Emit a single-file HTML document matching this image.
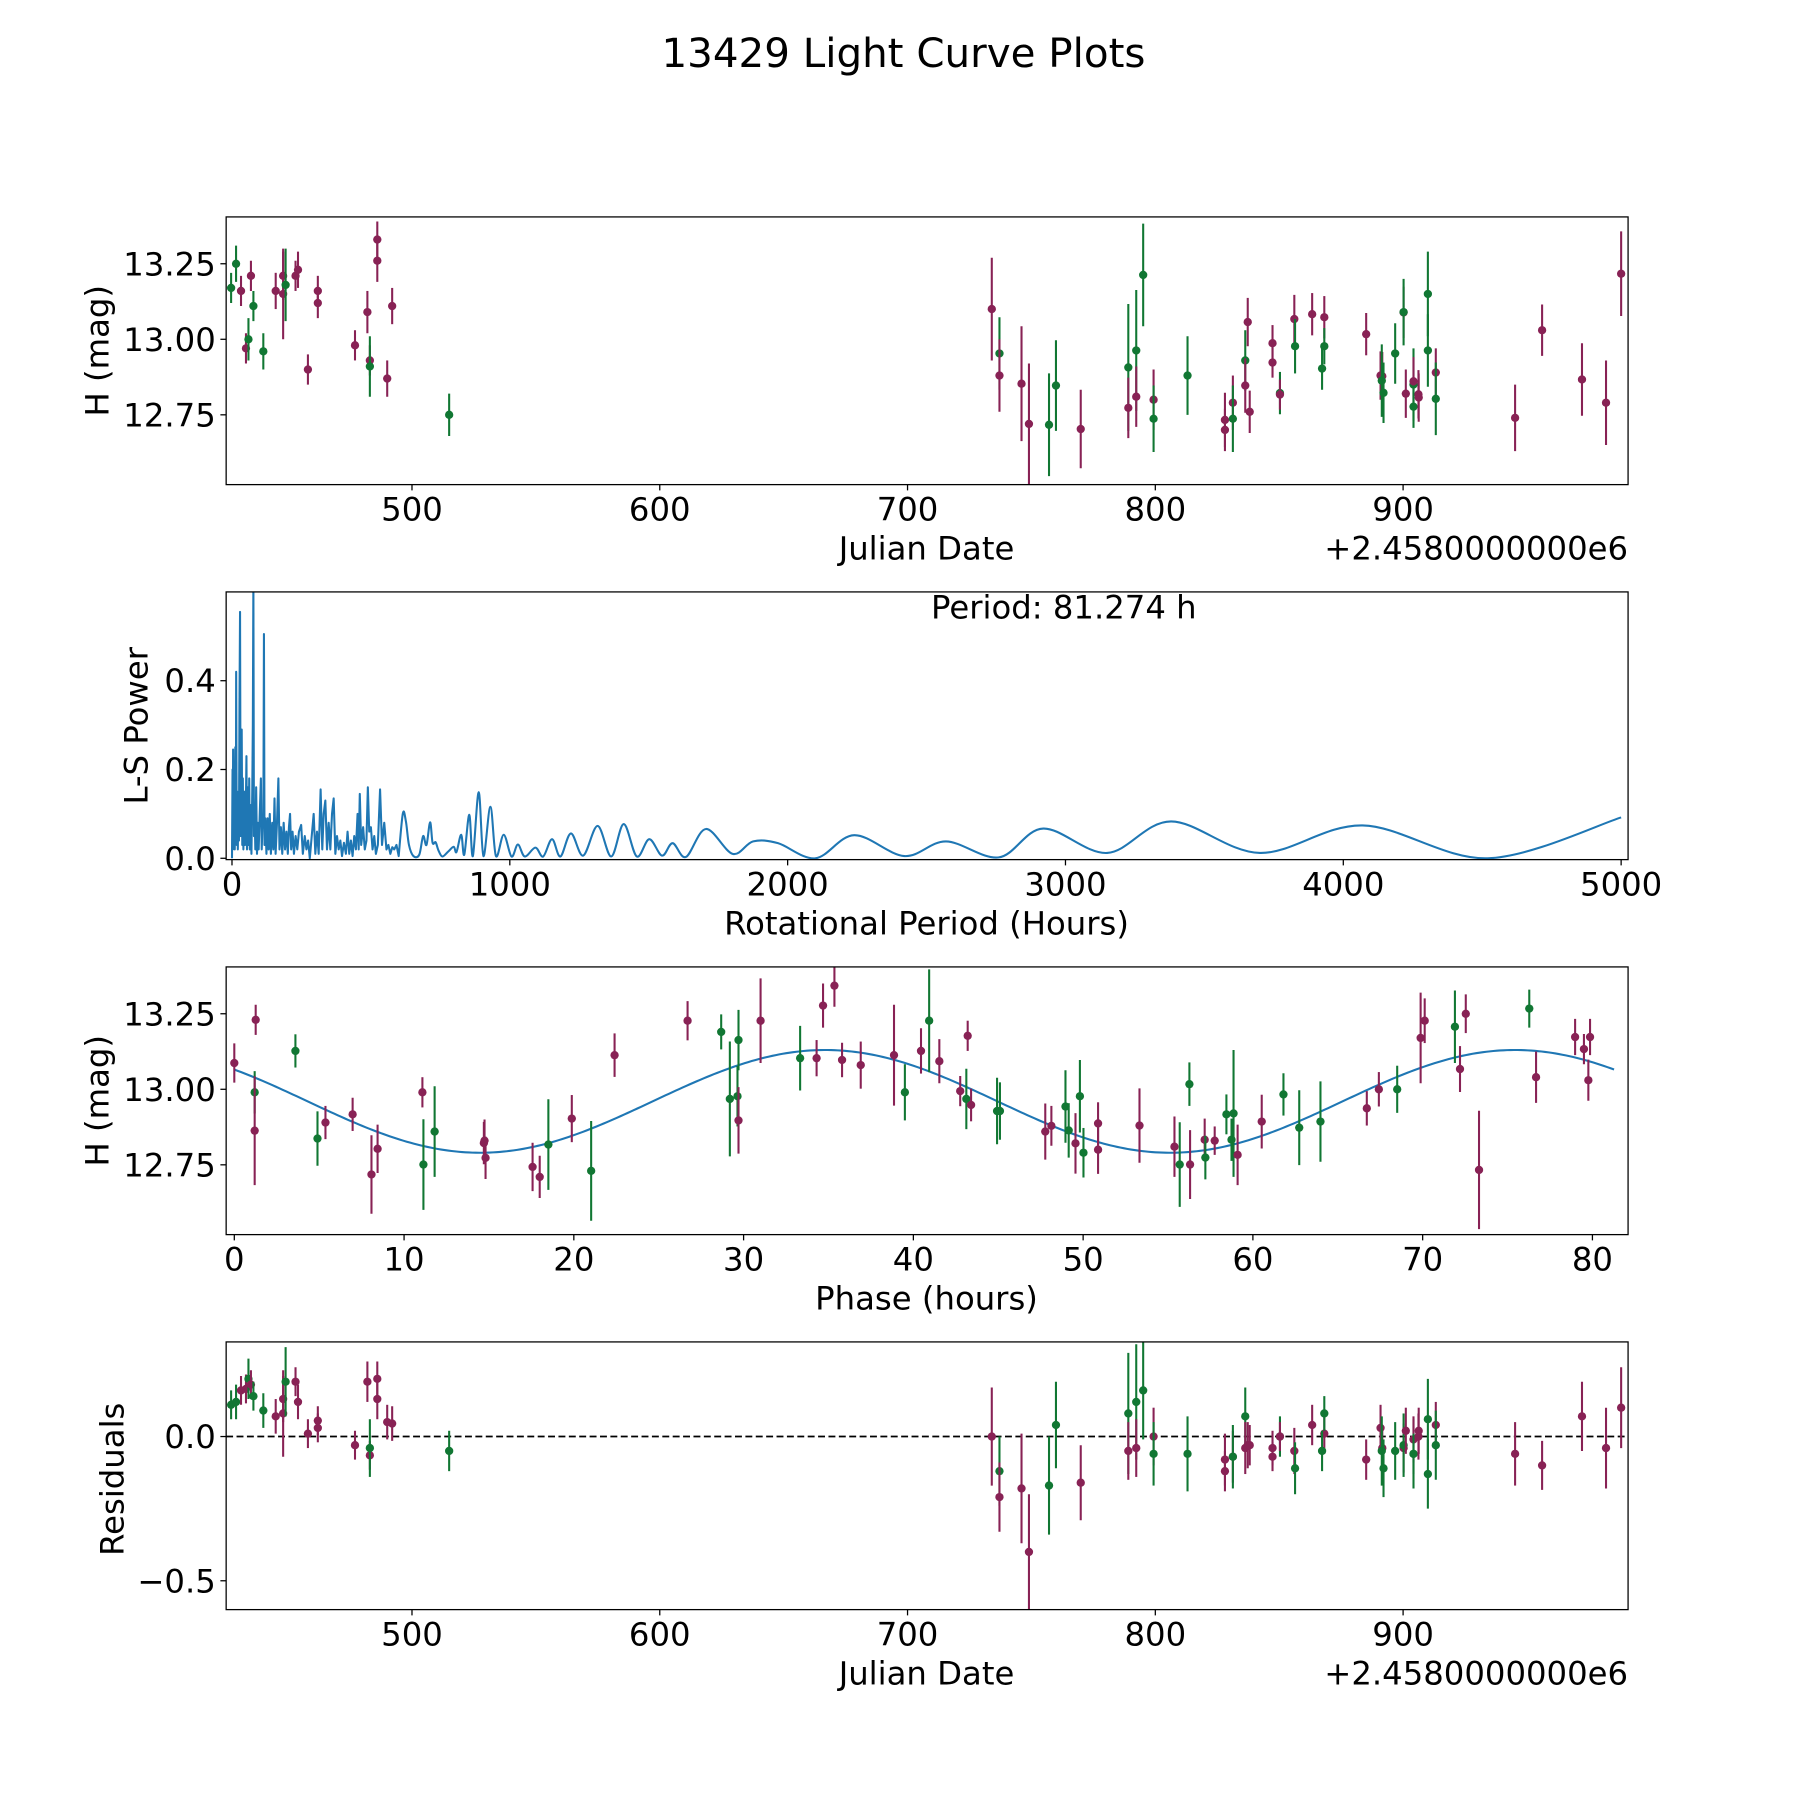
<!DOCTYPE html>
<html><head><meta charset="utf-8"><title>13429 Light Curve Plots</title>
<style>
html,body{margin:0;padding:0;background:#fff;}
svg{display:block;font-family:"DejaVu Sans","Liberation Sans",sans-serif;}
</style></head>
<body>
<svg id="fig" xmlns="http://www.w3.org/2000/svg" width="1800" height="1800" viewBox="0 0 1560 1560">
<rect x="0" y="0" width="1560" height="1560" fill="#fff"/>
<text x="783" y="58" font-size="35" text-anchor="middle" fill="#000">13429 Light Curve Plots</text>
</svg>
<script>
// ---- Light curve data (JD - 2458000) ----
const dates = [427,429,431,433,434,435,436,440,445,448,448,449,453,454,458,462,462,477,482,483,483,486,486,490,492,515,
734,737.1,737.1,746,749,757.1,759.9,769.9,789.1,789.1,792.3,792.3,795.1,799.3,799.3,813,828.1,828.1,831.3,831.3,836.3,836.3,837.3,838.1,847.3,847.3,850.3,850.3,856.1,856.4,863.3,868.2,868.2,867.3,885.1,890.9,891.6,891.4,892.1,896.8,900.2,900.2,901.1,904.2,904.2,904.2,906.2,906.3,910,910,913.2,913.2,945.2,956.1,972.2,981.9,988];
const mags = [13.17,13.25,13.16,12.97,13.00,13.21,13.11,12.96,13.16,13.15,13.21,13.18,13.21,13.23,12.90,13.16,13.12,12.98,13.09,12.93,12.91,13.33,13.26,12.87,13.11,12.75,
13.10,12.953,12.88,12.853,12.72,12.717,12.847,12.703,12.907,12.773,12.963,12.81,13.213,12.80,12.737,12.88,12.733,12.70,12.79,12.737,12.93,12.847,13.057,12.76,12.987,12.923,12.822,12.817,13.067,12.977,13.083,13.073,12.977,12.903,13.017,12.88,12.878,12.863,12.823,12.953,13.089,13.09,12.82,12.85,12.861,12.777,12.818,12.807,13.15,12.963,12.89,12.803,12.74,13.03,12.867,12.79,13.217];
const errs = [0.05,0.06,0.05,0.05,0.07,0.05,0.05,0.06,0.06,0.15,0.08,0.12,0.05,0.06,0.05,0.05,0.05,0.05,0.07,0.05,0.10,0.06,0.07,0.06,0.06,0.07,
0.17,0.12,0.12,0.19,0.2,0.17,0.15,0.13,0.21,0.1,0.2,0.1,0.17,0.1,0.11,0.13,0.09,0.07,0.09,0.11,0.1,0.09,0.08,0.07,0.06,0.05,0.07,0.05,0.08,0.09,0.07,0.07,0.06,0.07,0.07,0.08,0.08,0.12,0.1,0.1,0.085,0.11,0.08,0.12,0.08,0.07,0.08,0.08,0.14,0.12,0.08,0.12,0.11,0.085,0.12,0.14,0.14];
const residuals = [0.11,0.12,0.16,0.165,0.2,0.18,0.14,0.09,0.07,0.08,0.13,0.19,0.19,0.12,0.01,0.055,0.03,-0.03,0.19,-0.065,-0.04,0.2,0.13,0.05,0.045,-0.05,
0.0,-0.12,-0.21,-0.18,-0.40,-0.17,0.04,-0.16,0.08,-0.05,0.12,-0.04,0.16,0.0,-0.06,-0.06,-0.08,-0.12,-0.07,-0.07,0.07,-0.04,-0.03,-0.03,-0.04,-0.07,0.0,0.0,-0.05,-0.11,0.04,0.01,0.08,-0.05,-0.08,0.03,-0.04,-0.05,-0.11,-0.05,-0.04,-0.03,0.02,-0.06,-0.01,-0.06,0.0,0.02,0.06,-0.13,0.04,-0.03,-0.06,-0.1,0.07,-0.04,0.1];
const filterList = ["g","g","m","m","g","m","g","g","m","m","m","g","m","m","m","m","m","m","m","m","g","m","m","m","m","g",
"m","g","m","m","m","g","g","m","g","m","g","m","g","m","g","g","m","m","m","g","g","m","m","m","m","m","g","m","m","g","m","m","g","g","m","m","m","g","g","g","m","g","m","g","m","g","m","m","g","g","m","g","m","m","m","m","m"];

// ---- Periodogram data (period hours, L-S power) ----
const lsPeriod = [0,2,3,4,6,8,10,12,14,15,17,19,21,23,25,27,29,31,33,35,37,39,41,44,47,50,52,54,57,60,62,64,67,70,73,75,77,79,81,84,87,90,93,96,100,104,107,110,113,115,117,120,124,128,132,136,140,145,149,153,157,162,167,171,176,181,186,191,196,201,205,209,213,218,223,229,235,241,249,255,262,268,274,280,287,294,300,306,312,319,325,330,336,342,348,354,360,366,372,378,384,390,396,403,410,416,422,428,434,440,446,452,456,460,465,472,478,484,489,494,500,506,512,518,525,533,540,548,556,563,570,577,584,592,600];
const lsPower = [0.0,0.2,0.02,0.245,0.03,0.16,0.02,0.25,0.05,0.42,0.03,0.15,0.02,0.12,0.04,0.35,0.555,0.05,0.18,0.29,0.03,0.18,0.02,0.15,0.03,0.12,0.23,0.02,0.16,0.03,0.18,0.02,0.12,0.01,0.15,0.3,0.62,0.05,0.12,0.02,0.16,0.01,0.08,0.02,0.1,0.18,0.02,0.08,0.1,0.505,0.03,0.09,0.01,0.09,0.02,0.1,0.01,0.08,0.02,0.135,0.01,0.08,0.18,0.02,0.07,0.01,0.08,0.02,0.06,0.01,0.07,0.1,0.02,0.06,0.01,0.05,0.02,0.06,0.075,0.01,0.05,0.02,0.04,0.0,0.05,0.1,0.01,0.06,0.01,0.155,0.02,0.1,0.13,0.02,0.08,0.02,0.1,0.135,0.01,0.05,0.02,0.04,0.005,0.035,0.01,0.06,0.01,0.04,0.005,0.05,0.02,0.1,0.02,0.145,0.03,0.07,0.02,0.04,0.16,0.06,0.07,0.02,0.05,0.01,0.03,0.155,0.03,0.08,0.02,0.03,0.01,0.025,0.02,0.03,0.005];
const lsSmoothPeriod = [600,615,626,637,653,674,688,700,713,722,733,743,757,778,798,808,825,836,854,867,888,905,930,950,978,1006,1029,1054,1092,1120,1152,1182,1220,1264,1316,1365,1410,1457,1502,1548,1586,1634,1706,1802,1876,1965,2100,2240,2420,2570,2760,2920,3150,3380,3700,4070,4520,5000];
const lsSmoothPower = [0.005,0.101,0.083,0.03,0.005,0.008,0.05,0.03,0.081,0.035,0.036,0.018,0.004,0.015,0.026,0.014,0.053,0.008,0.098,0.005,0.149,0.005,0.116,0.005,0.053,0.004,0.031,0.004,0.024,0.004,0.043,0.004,0.056,0.006,0.073,0.004,0.077,0.004,0.043,0.006,0.034,0.003,0.066,0.01,0.038,0.034,0.0,0.052,0.005,0.038,0.002,0.067,0.012,0.083,0.012,0.074,0.0,0.092];

// ---- Phased data ----
const phases = [0.0,1.26,1.2,1.2,3.6,4.9,5.37,6.97,8.08,8.44,11.08,11.14,11.8,14.7,14.74,14.8,17.57,17.99,18.5,19.88,21.02,22.4,26.7,28.68,29.19,29.7,29.64,29.7,31.0,33.33,34.3,34.68,35.35,35.8,36.9,38.86,39.5,40.45,40.93,41.53,42.76,43.12,43.2,43.4,44.93,45.1,
47.77,48.13,48.96,49.15,49.55,49.81,50.02,50.88,50.88,53.32,55.38,55.69,56.26,56.3,57.16,57.2,57.75,58.44,58.74,58.86,59.1,60.52,61.8,62.73,63.98,66.71,67.42,68.5,69.88,70.12,71.9,72.2,72.54,73.32,76.28,76.68,78.98,79.5,79.86,79.76];
const phaseMags = [13.087,13.23,12.99,12.863,13.127,12.837,12.89,12.917,12.718,12.803,12.99,12.751,12.86,12.822,12.83,12.773,12.743,12.71,12.817,12.903,12.73,13.113,13.227,13.19,12.968,13.163,12.977,12.897,13.227,13.103,13.103,13.277,13.343,13.097,13.08,13.113,12.99,13.127,13.227,13.093,12.994,12.968,13.177,12.948,12.928,12.928,
12.86,12.879,12.943,12.864,12.821,12.977,12.79,12.887,12.8,12.88,12.81,12.751,13.017,12.751,12.833,12.774,12.83,12.917,12.833,12.92,12.783,12.893,12.983,12.873,12.893,12.937,13.0,13.0,13.17,13.227,13.207,13.067,13.25,12.733,13.267,13.04,13.173,13.133,13.173,13.03];
const phaseErrs = [0.065,0.05,0.07,0.18,0.055,0.09,0.055,0.055,0.13,0.08,0.05,0.15,0.15,0.07,0.07,0.07,0.08,0.07,0.15,0.078,0.165,0.072,0.065,0.058,0.19,0.1,0.1,0.11,0.14,0.107,0.06,0.073,0.07,0.057,0.078,0.167,0.093,0.075,0.17,0.073,0.05,0.1,0.05,0.054,0.11,0.095,
0.093,0.066,0.12,0.09,0.1,0.12,0.082,0.07,0.08,0.123,0.1,0.14,0.072,0.114,0.07,0.072,0.047,0.066,0.07,0.21,0.1,0.089,0.07,0.124,0.133,0.057,0.057,0.078,0.15,0.074,0.12,0.076,0.064,0.196,0.063,0.085,0.06,0.05,0.06,0.068];
const phaseFilters = ["m","m","g","m","g","g","m","m","m","m","m","g","g","m","m","m","m","m","g","m","g","m","m","g","g","g","g","m","m","g","m","m","m","m","m","m","g","m","g","m","m","g","m","m","g","g",
"m","m","g","g","m","g","g","m","m","m","m","g","g","m","m","g","m","g","g","g","m","m","g","g","g","m","m","g","m","m","g","m","m","m","g","m","m","m","m","m"];
// fitted model: [mean, amplitude, model period (h), peak phase (h)]
const modelParams = [12.96, 0.17, 40.64, 34.8];
const rotPeriod = [81.274];

// ---- tick arrays ----
const dateTicks = [500,600,700,800,900];
const magTicks = [12.75,13.00,13.25];
const magTickLabels = ["12.75","13.00","13.25"];
const lsXTicks = [0,1000,2000,3000,4000,5000];
const lsYTicks = [0.0,0.2,0.4];
const lsYTickLabels = ["0.0","0.2","0.4"];
const phaseTicks = [0,10,20,30,40,50,60,70,80];
const resTicks = [-0.5,0.0];
const resTickLabels = ["\u22120.5","0.0"];

const NS = "http://www.w3.org/2000/svg";
const svg = document.getElementById("fig");
const COL = {m:"#882255", g:"#117733"};
const FS = 28;
function mk(tag, attrs, parent){
  const e = document.createElementNS(NS, tag);
  for (const k in attrs) e.setAttribute(k, attrs[k]);
  (parent||svg).appendChild(e);
  return e;
}
function scale(d0,d1,r0,r1){ return v => r0 + (v-d0)*(r1-r0)/(d1-d0); }

const L = 196, R = 1411;
function makeAxes(name, top, bottom, xlim, ylim){
  const g = mk("g", {});
  
  
  const cid = "clip-" + name;
  const cp = mk("clipPath", {id: cid}, g);
  mk("rect", {x:L, y:top, width:R-L, height:bottom-top}, cp);
  const plot = mk("g", {"clip-path":"url(#"+cid+")"}, g);
  
  
  return {g, plot, top, bottom, x: scale(xlim[0],xlim[1],L,R), y: scale(ylim[0],ylim[1],bottom,top)};
}
function frame(ax){
  const f = mk("rect", {x:L, y:ax.top, width:R-L, height:ax.bottom-ax.top, fill:"none", stroke:"#000", "stroke-width":1.1}, ax.g);
  
  
}
function xTicks(ax, ticks, labels){
  ticks.forEach((t,i)=>{
    const px = ax.x(t);
    mk("line", {x1:px, x2:px, y1:ax.bottom, y2:ax.bottom+5, stroke:"#000", "stroke-width":1.1}, ax.g);
    const tx = mk("text", {x:px, y:ax.bottom+31, "font-size":FS, "text-anchor":"middle", fill:"#000"}, ax.g);
    
    
    tx.textContent = labels ? labels[i] : String(t);
  });
}
function yTicks(ax, ticks, labels){
  ticks.forEach((t,i)=>{
    const py = ax.y(t);
    mk("line", {x1:L-5, x2:L, y1:py, y2:py, stroke:"#000", "stroke-width":1.1}, ax.g);
    const tx = mk("text", {x:L-9, y:py+10, "font-size":FS, "text-anchor":"end", fill:"#000"}, ax.g);
    
    
    tx.textContent = labels[i];
  });
}
function label(ax, text, x, y, rot, name, anchor){
  const t = mk("text", {x:x, y:y, "font-size":FS, "text-anchor":anchor||"middle", fill:"#000"}, ax.g);
  if (rot) t.setAttribute("transform", "rotate(-90 "+x+" "+y+")");
  
  
  t.textContent = text;
}
function errPoints(ax, xs, ys, es, fs, name){
  xs.forEach((xv,i)=>{
    const px = ax.x(xv), py = ax.y(ys[i]), c = COL[fs[i]];
    const grp = mk("g", {}, ax.plot);
    
    
    mk("line", {x1:px, x2:px, y1:ax.y(ys[i]+es[i]), y2:ax.y(ys[i]-es[i]), stroke:c, "stroke-width":1.8}, grp);
    mk("circle", {cx:px, cy:py, r:3.6, fill:c}, grp);
  });
}

// ---- Axes 1: light curve ----
const ax1 = makeAxes("light-curve-axes", 188, 420, [425, 990.8], [12.519, 13.405]);
errPoints(ax1, dates, mags, errs, filterList, "magnitude");
frame(ax1);
xTicks(ax1, dateTicks);
yTicks(ax1, magTicks, magTickLabels);
label(ax1, "Julian Date", 803, 485, false, "x-axis-title");
label(ax1, "+2.4580000000e6", 1411, 485, false, "x-offset-text", "end");
label(ax1, "H (mag)", 94, 304, true, "y-axis-title");

// ---- Axes 2: periodogram ----
const ax2 = makeAxes("periodogram-axes", 513, 745, [-21, 5025], [-0.003, 0.6]);
(function(){
  let d = "";
  lsPeriod.forEach((p,i)=>{ d += (i? "L":"M") + ax2.x(p).toFixed(2) + "," + ax2.y(lsPower[i]).toFixed(2); });
  const pts = lsSmoothPeriod.map((p,i)=>[ax2.x(p), ax2.y(lsSmoothPower[i])]);
  for (let i=0;i<pts.length-1;i++){
    const p0 = pts[Math.max(0,i-1)], p1 = pts[i], p2 = pts[i+1], p3 = pts[Math.min(pts.length-1,i+2)];
    const c1x = p1[0] + (p2[0]-p0[0])/6, c1y = p1[1] + (p2[1]-p0[1])/6;
    const c2x = p2[0] - (p3[0]-p1[0])/6, c2y = p2[1] - (p3[1]-p1[1])/6;
    d += "L" + p1[0].toFixed(2) + "," + p1[1].toFixed(2) + "C" + c1x.toFixed(2)+","+c1y.toFixed(2)+" "+c2x.toFixed(2)+","+c2y.toFixed(2)+" "+p2[0].toFixed(2)+","+p2[1].toFixed(2);
  }
  const path = mk("path", {d:d, fill:"none", stroke:"#1f77b4", "stroke-width":1.8, "stroke-linejoin":"round"}, ax2.plot);
  
  
})();
frame(ax2);
xTicks(ax2, lsXTicks);
yTicks(ax2, lsYTicks, lsYTickLabels);
label(ax2, "Period: " + rotPeriod[0].toFixed(3) + " h", 922, 536, false, "period-annotation");
label(ax2, "Rotational Period (Hours)", 803, 810, false, "x-axis-title");
label(ax2, "L-S Power", 128, 629, true, "y-axis-title");

// ---- Axes 3: phased curve ----
const ax3 = makeAxes("phase-curve-axes", 838, 1070, [-0.48, 82.1], [12.519, 13.405]);
(function(){
  let d = "";
  const N = 400;
  for (let i=0;i<=N;i++){
    const p = rotPeriod[0]*i/N;
    const m = modelParams[0] + modelParams[1]*Math.cos(2*Math.PI*(p-modelParams[3])/modelParams[2]);
    d += (i? "L":"M") + ax3.x(p).toFixed(2) + "," + ax3.y(m).toFixed(2);
  }
  const path = mk("path", {d:d, fill:"none", stroke:"#1f77b4", "stroke-width":1.8}, ax3.plot);
  
  
})();
errPoints(ax3, phases, phaseMags, phaseErrs, phaseFilters, "phased-magnitude");
frame(ax3);
xTicks(ax3, phaseTicks);
yTicks(ax3, magTicks, magTickLabels);
label(ax3, "Phase (hours)", 803, 1135, false, "x-axis-title");
label(ax3, "H (mag)", 94, 954, true, "y-axis-title");

// ---- Axes 4: residuals ----
const ax4 = makeAxes("residuals-axes", 1163, 1395, [425, 990.8], [-0.6, 0.328]);
(function(){
  const l = mk("line", {x1:L, x2:R, y1:ax4.y(0), y2:ax4.y(0), stroke:"#000", "stroke-width":1.5, "stroke-dasharray":"6,3"}, ax4.plot);
  
  
})();
errPoints(ax4, dates, residuals, errs, filterList, "residual");
frame(ax4);
xTicks(ax4, dateTicks);
yTicks(ax4, resTicks, resTickLabels);
label(ax4, "Julian Date", 803, 1460, false, "x-axis-title");
label(ax4, "+2.4580000000e6", 1411, 1460, false, "x-offset-text", "end");
label(ax4, "Residuals", 107, 1282, true, "y-axis-title");
</script>
</body></html>
